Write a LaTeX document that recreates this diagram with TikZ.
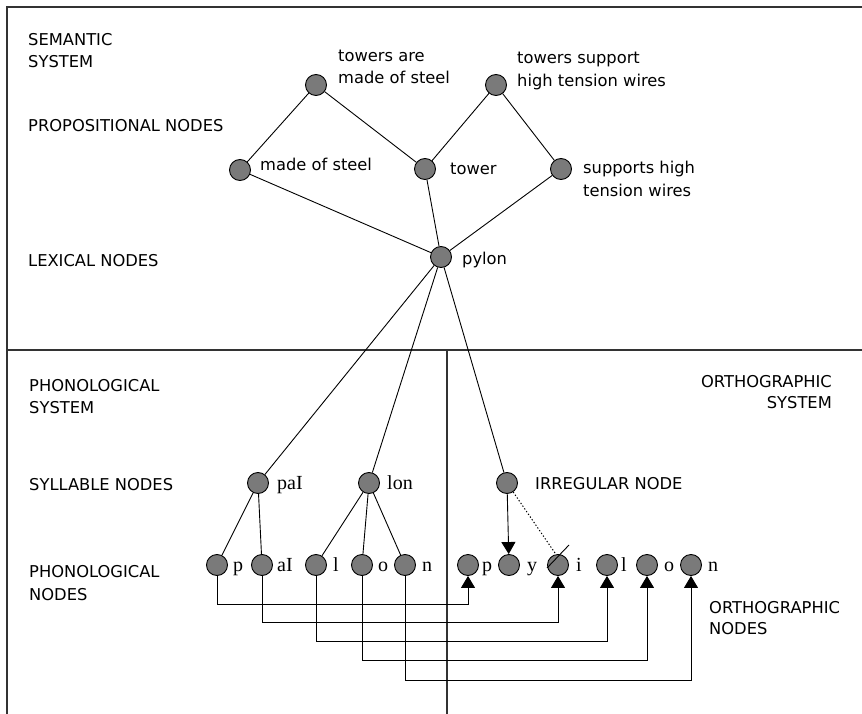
\documentclass[tikz,border=0pt]{standalone}
\usepackage{fontspec}
\setmainfont{DejaVu Sans}
\newfontfamily\serifl{Liberation Serif}
\usetikzlibrary{arrows.meta}
\definecolor{nodegray}{HTML}{7A7A7A}
\definecolor{framegray}{HTML}{333333}
\tikzset{
  dot/.style={circle,draw=black,fill=nodegray,line width=0.9pt,minimum size=21pt,inner sep=0pt},
  lbl/.style={anchor=base west,inner sep=0pt,font=\fontsize{16.3}{20}\selectfont},
  rlbl/.style={anchor=base east,inner sep=0pt,font=\fontsize{16.3}{20}\selectfont},
  slbl/.style={anchor=base west,inner sep=0pt,font=\serifl\fontsize{20}{22}\selectfont},
  link/.style={line width=0.9pt},
  frame/.style={draw=framegray,line width=1.4pt},
  tip/.style={line width=0.9pt,-{Triangle[length=12pt,width=14pt]}},
  dotline/.style={line width=1pt,dash pattern=on 1.3pt off 2pt}
}
\begin{document}
\begin{tikzpicture}[x=1pt,y=-1pt]
\useasboundingbox (0,0) rectangle (862,714);
% frame
\draw[frame] (862,7) -- (7,7) -- (7,714);
\draw[frame] (7,350) -- (862,350);
\draw[frame] (447,350) -- (447,714);
% coordinates for routing
\coordinate (r1) at (0,604);
\coordinate (r2) at (0,622);
\coordinate (r3) at (0,641);
\coordinate (r4) at (0,660);
\coordinate (r5) at (0,680);
% nodes
\node[dot] (t1) at (316,85) {};
\node[dot] (t2) at (496,85) {};
\node[dot] (ms) at (240,170) {};
\node[dot] (tw) at (425,169) {};
\node[dot] (sh) at (561,169) {};
\node[dot] (py) at (441,257) {};
\node[dot] (pai) at (258,483) {};
\node[dot] (lon) at (369,483) {};
\node[dot] (irr) at (507,483) {};
\node[dot] (fp) at (217,565) {};
\node[dot] (fai) at (262,565) {};
\node[dot] (fl) at (316,565) {};
\node[dot] (fo) at (362,565) {};
\node[dot] (fn) at (405,565) {};
\node[dot] (op) at (468,565) {};
\node[dot] (oy) at (509,565) {};
\node[dot] (oi) at (558,565) {};
\node[dot] (ol) at (607,565) {};
\node[dot] (oo) at (647,565) {};
\node[dot] (on) at (691,565) {};
% semantic links
\draw[link] (t1) -- (ms);
\draw[link] (t1) -- (tw);
\draw[link] (t2) -- (tw);
\draw[link] (t2) -- (sh);
\draw[link] (ms) -- (py);
\draw[link] (tw) -- (py);
\draw[link] (sh) -- (py);
\draw[link] (py) -- (pai);
\draw[link] (py) -- (lon);
\draw[link] (py) -- (irr);
\draw[link] (pai) -- (fp);
\draw[link] (pai) -- (fai);
\draw[link] (lon) -- (fl);
\draw[link] (lon) -- (fo);
\draw[link] (lon) -- (fn);
% irregular
\draw[tip] (irr) -- (oy);
\coordinate (sl1) at (547,568);
\coordinate (sl2) at (569,545);
\coordinate (dend) at (555,553);
\draw[dotline] (irr) -- (dend);
\draw[link] (sl1) -- (sl2);
% routing
\draw[tip] (fp.south) -- (fp.south |- r1) -| (op.south);
\draw[tip] (fai.south) -- (fai.south |- r2) -| (oi.south);
\draw[tip] (fl.south) -- (fl.south |- r3) -| (ol.south);
\draw[tip] (fo.south) -- (fo.south |- r4) -| (oo.south);
\draw[tip] (fn.south) -- (fn.south |- r5) -| (on.south);
% labels
\node[lbl] (a1) at (28,46) {SEMANTIC};
\node[lbl] (a2) at (28,68) {SYSTEM};
\node[lbl] (a3) at (338,62) {towers are};
\node[lbl] (a4) at (338,84) {made of steel};
\node[lbl] (a5) at (517,64) {towers support};
\node[lbl] (a6) at (517,87) {high tension wires};
\node[lbl] (a7) at (28,132) {PROPOSITIONAL NODES};
\node[lbl] (a8) at (260,171) {made of steel};
\node[lbl] (a9) at (450,175) {tower};
\node[lbl] (a10) at (583,174) {supports high};
\node[lbl] (a11) at (583,197) {tension wires};
\node[lbl] (a12) at (28,266) {LEXICAL NODES};
\node[lbl] (a13) at (462,265) {pylon};
\node[lbl] (b1) at (29,391) {PHONOLOGICAL};
\node[lbl] (b2) at (29,413) {SYSTEM};
\node[rlbl] (b3) at (832,387) {ORTHOGRAPHIC};
\node[rlbl] (b4) at (832,408) {SYSTEM};
\node[lbl] (b5) at (29,490) {SYLLABLE NODES};
\node[lbl] (b6) at (535,489) {IRREGULAR NODE};
\node[lbl] (b7) at (29,577) {PHONOLOGICAL};
\node[lbl] (b8) at (29,600) {NODES};
\node[lbl] (b9) at (709,613) {ORTHOGRAPHIC};
\node[lbl] (b10) at (709,634) {NODES};
\node[slbl] (c1) at (277,489) {paI};
\node[slbl] (c2) at (387,489) {lon};
\node[slbl] (c3) at (233,571) {p};
\node[slbl] (c4) at (277,571) {aI};
\node[slbl] (c5) at (333,571) {l};
\node[slbl] (c6) at (378,571) {o};
\node[slbl] (c7) at (422,571) {n};
\node[slbl] (c8) at (482,571) {p};
\node[slbl] (c9) at (527,571) {y};
\node[slbl] (c10) at (576,571) {i};
\node[slbl] (c11) at (621,571) {l};
\node[slbl] (c12) at (664,571) {o};
\node[slbl] (c13) at (708,571) {n};
\end{tikzpicture}
\end{document}
